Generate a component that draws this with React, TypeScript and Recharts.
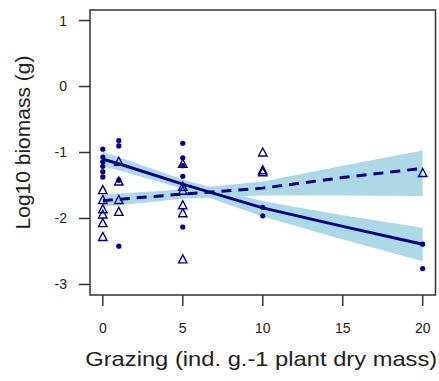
import React from 'react';
import {
    ComposedChart,
    Area,
    Line,
    Scatter,
    XAxis,
    YAxis,
    ReferenceArea,
} from 'recharts';

// observed plots: filled circles and open triangles
const circleX = [0, 0, 0, 0, 0, 0, 1, 1, 1, 1, 5, 5, 5, 5, 5, 10, 10, 20, 20];
const circleY = [-0.95, -1.07, -1.14, -1.21, -1.29, -1.37, -0.82, -0.9, -1.42, -2.42, -0.86, -1.08, -1.2, -1.36, -2.13, -1.83, -1.96, -2.39, -2.76];

const triangleX = [0, 0, 0, 0, 0, 0, 1, 1, 1, 1, 5, 5, 5, 5, 5, 5, 10, 10, 10, 20];
const triangleY = [-1.57, -1.72, -1.86, -1.94, -2.07, -2.28, -1.14, -1.44, -1.72, -1.9, -1.17, -1.52, -1.58, -1.8, -1.92, -2.62, -1.0, -1.27, -1.3, -1.31];

// fitted lines with confidence bands
const fitX = [0, 1, 5, 10, 15, 20];
const solidFit = [-1.1, -1.17, -1.48, -1.84, -2.12, -2.39];
const solidLow = [-1.21, -1.27, -1.55, -1.97, -2.32, -2.65];
const solidHigh = [-0.99, -1.07, -1.41, -1.74, -1.95, -2.14];
const dashedFit = [-1.73, -1.71, -1.63, -1.54, -1.38, -1.24];
const dashedLow = [-1.82, -1.8, -1.7, -1.65, -1.65, -1.66];
const dashedHigh = [-1.64, -1.62, -1.56, -1.44, -1.2, -0.97];

const xTicks = [0, 5, 10, 15, 20];
const yTicks = [-3, -2, -1, 0, 1];

const NAVY = '#00008B';
const BAND = '#ADD8E6';
const INK = '#333333';
const FONT = 'Arial, "Liberation Sans", sans-serif';

const circles = circleX.map((x, i) => ({ x, y: circleY[i] }));
const triangles = triangleX.map((x, i) => ({ x, y: triangleY[i] }));
const fitData = fitX.map((x, i) => ({
    x,
    solid: solidFit[i],
    solidBand: [solidLow[i], solidHigh[i]],
    dashed: dashedFit[i],
    dashedBand: [dashedLow[i], dashedHigh[i]],
}));

const DotShape = (p: any) => <circle cx={p.cx} cy={p.cy} r={2.6} fill={NAVY} />;

const TriangleShape = (p: any) => (
    <path
        d={`M${p.cx},${p.cy - 4.5} L${p.cx + 4.2},${p.cy + 3.5} L${p.cx - 4.2},${p.cy + 3.5} Z`}
        fill="none"
        stroke={NAVY}
        strokeWidth={1.4}
    />
);

const XTitle = (props: any) => {
    const vb = props.viewBox || {};
    return (
        <text
            x={vb.x + vb.width / 2 - 1.5}
            y={vb.y + 71}
            textAnchor="middle"
            fontSize={21}
            fontFamily={FONT}
            fill="#222"
            textLength={352}
            lengthAdjust="spacingAndGlyphs"
        >
            Grazing (ind. g.-1 plant dry mass)
        </text>
    );
};

const YTitle = (props: any) => {
    const vb = props.viewBox || {};
    const cx = vb.x + 14;
    const cy = vb.y + vb.height / 2 - 10;
    return (
        <text
            x={cx}
            y={cy}
            textAnchor="middle"
            dominantBaseline="central"
            fontSize={21}
            fontFamily={FONT}
            fill="#222"
            transform={`rotate(-90, ${cx}, ${cy})`}
        >
            Log10 biomass (g)
        </text>
    );
};

export default function App() {
    return (
        <div style={{ padding: 8, width: 431, height: 365 }}>
            <style>{'body { margin: 0; }'}</style>
            <ComposedChart
                width={431}
                height={365}
                data={fitData}
                margin={{ top: 2, right: 3.5, bottom: 0, left: 0 }}
            >
                <XAxis
                    dataKey="x"
                    type="number"
                    domain={[-0.8, 20.8]}
                    ticks={xTicks}
                    allowDataOverflow
                    height={78}
                    axisLine={false}
                    tickSize={11}
                    tickMargin={17}
                    tickLine={{ stroke: INK, strokeWidth: 1.5 }}
                    tick={{ fill: '#222', fontSize: 14, fontFamily: FONT }}
                    label={<XTitle />}
                />
                <YAxis
                    type="number"
                    domain={[-3.16, 1.16]}
                    ticks={yTicks}
                    allowDataOverflow
                    width={82}
                    axisLine={false}
                    tickSize={11}
                    tickMargin={12}
                    tickLine={{ stroke: INK, strokeWidth: 1.5 }}
                    tick={{ fill: '#222', fontSize: 14, fontFamily: FONT }}
                    label={<YTitle />}
                />
                <Area
                    type="linear"
                    dataKey="solidBand"
                    stroke="none"
                    fill={BAND}
                    fillOpacity={1}
                    isAnimationActive={false}
                />
                <Area
                    type="linear"
                    dataKey="dashedBand"
                    stroke="none"
                    fill={BAND}
                    fillOpacity={1}
                    isAnimationActive={false}
                />
                <Line
                    type="linear"
                    dataKey="solid"
                    stroke={NAVY}
                    strokeWidth={3}
                    dot={false}
                    isAnimationActive={false}
                />
                <Line
                    type="linear"
                    dataKey="dashed"
                    stroke={NAVY}
                    strokeWidth={3}
                    strokeDasharray="10 7"
                    dot={false}
                    isAnimationActive={false}
                />
                <Scatter data={circles} dataKey="y" shape={DotShape} isAnimationActive={false} />
                <Scatter data={triangles} dataKey="y" shape={TriangleShape} isAnimationActive={false} />
                <ReferenceArea
                    x1={-0.8}
                    x2={20.8}
                    y1={-3.16}
                    y2={1.16}
                    fill="none"
                    stroke={INK}
                    strokeWidth={1.5}
                    ifOverflow="visible"
                />
            </ComposedChart>
        </div>
    );
}
